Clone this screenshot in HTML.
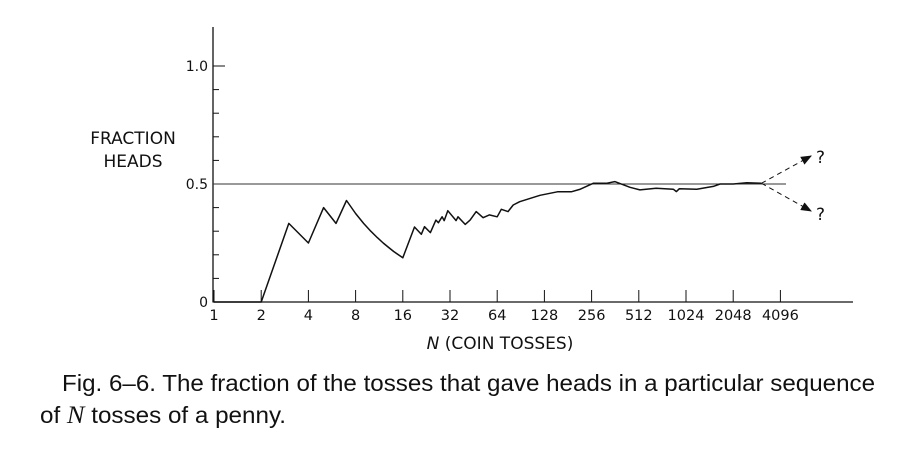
<!DOCTYPE html>
<html><head><meta charset="utf-8"><style>
html,body{margin:0;padding:0;background:#fff;width:915px;height:449px;overflow:hidden}
svg text{font-family:"DejaVu Sans","Liberation Sans",sans-serif;fill:#111}
.cap{font-family:"Liberation Sans",sans-serif;font-size:23px;fill:#111}
</style></head><body>
<svg width="915" height="449">
<defs><marker id="ah" viewBox="0 0 10 10" refX="9" refY="5" markerWidth="11" markerHeight="11" markerUnits="userSpaceOnUse" orient="auto"><path d="M0,1 L10,5 L0,9 z" fill="#111"/></marker></defs>
<g id="axes"></g>
<g id="plot"></g>
<text x="133" y="144" font-size="17" text-anchor="middle">FRACTION</text>
<text x="133" y="167" font-size="17" text-anchor="middle">HEADS</text>
<text x="500" y="349" font-size="17" text-anchor="middle"><tspan font-style="italic">N</tspan> (COIN TOSSES)</text>
<text x="816" y="163" font-size="17">?</text>
<text x="816" y="220" font-size="17">?</text>
<text class="cap" x="62" y="391" textLength="813" lengthAdjust="spacingAndGlyphs">Fig. 6–6.   The fraction of the tosses that gave heads in a particular sequence</text>
<text class="cap" x="40" y="423" textLength="246" lengthAdjust="spacingAndGlyphs">of <tspan font-family="Liberation Serif,serif" font-style="italic" font-size="25">N</tspan> tosses of a penny.</text>
</svg>
<script>
const xTickLabels=[1,2,4,8,16,32,64,128,256,512,1024,2048,4096];
const yTickValues=[0,0.1,0.2,0.3,0.4,0.5,0.6,0.7,0.8,0.9,1.0];
const yTickLabels={"0":"0","0.5":"0.5","1":"1.0"};
const tossN=[1,2,3,4,5,6,7,8,9,10,11,12,13,14,15,16,19,21,22,24,26,27,28.5,29.4,31,35,36,40,43,47,52,57,64,68,75,81,89,120,155,190,215,262,318,360,450,520,660,850,890,930,1200,1530,1690,2050,2500,3100];
const headFrac=[0,0,0.333,0.25,0.4,0.333,0.43,0.375,0.333,0.3,0.273,0.25,0.231,0.214,0.2,0.1875,0.318,0.287,0.319,0.294,0.347,0.336,0.361,0.345,0.387,0.345,0.361,0.329,0.347,0.383,0.357,0.369,0.361,0.393,0.383,0.411,0.425,0.452,0.467,0.467,0.477,0.503,0.503,0.51,0.486,0.475,0.482,0.478,0.468,0.48,0.478,0.49,0.5,0.5,0.505,0.503];
const NS="http://www.w3.org/2000/svg";
const X=n=>214+47.2*Math.log2(n), Y=v=>302-236*v;
function mk(t,a,p){const e=document.createElementNS(NS,t);for(const k in a)e.setAttribute(k,a[k]);p.appendChild(e);return e;}
const ax=document.getElementById('axes'), pl=document.getElementById('plot');
let e=mk('line',{x1:213,y1:27,x2:213,y2:302.5,stroke:'#111','stroke-width':1.3},ax);


e=mk('line',{x1:213,y1:302,x2:853,y2:302,stroke:'#111','stroke-width':1.3},ax);


yTickValues.forEach(v=>{
 const lab=yTickLabels[String(v)];
 e=mk('line',{x1:213,y1:Y(v),x2:lab!==undefined?225:219,y2:Y(v),stroke:'#111','stroke-width':1},ax);
 
 
 if(lab!==undefined){const t=mk('text',{x:208,y:Y(v)+5,'font-size':14,'text-anchor':'end'},ax);t.textContent=lab;
 
 }
});
xTickLabels.forEach(n=>{
 e=mk('line',{x1:X(n),y1:302,x2:X(n),y2:290,stroke:'#111','stroke-width':1},ax);
 
 
 const t=mk('text',{x:X(n),y:320,'font-size':14.5,'text-anchor':'middle'},ax);t.textContent=n;
 
 
});
e=mk('line',{x1:213,y1:Y(0.5),x2:786,y2:Y(0.5),stroke:'#333','stroke-width':1},pl);


let d='';
for(let i=0;i<tossN.length;i++){
 d+=(i?'L':'M')+X(tossN[i]).toFixed(1)+','+Y(headFrac[i]).toFixed(1);
}
e=mk('path',{d:d,fill:'none',stroke:'#111','stroke-width':1.5,'stroke-linejoin':'round'},pl);


const lx=X(tossN[tossN.length-1]), ly=Y(headFrac[headFrac.length-1]);
e=mk('line',{x1:lx,y1:ly,x2:811,y2:156,stroke:'#111','stroke-width':1,'stroke-dasharray':'5,4','marker-end':'url(#ah)'},pl);


e=mk('line',{x1:lx,y1:ly,x2:811,y2:211,stroke:'#111','stroke-width':1,'stroke-dasharray':'5,4','marker-end':'url(#ah)'},pl);


</script>
</body></html>
